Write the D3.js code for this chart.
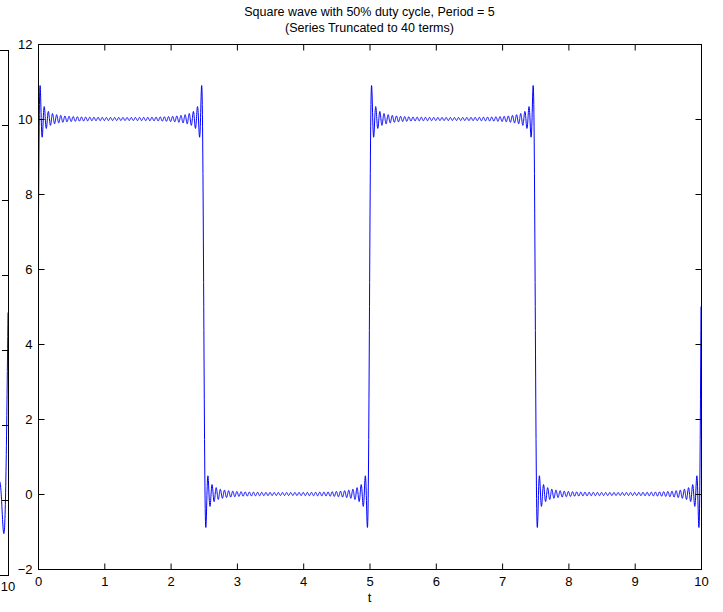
<!DOCTYPE html>
<html>
<head>
<meta charset="utf-8">
<script src="https://cdn.jsdelivr.net/npm/d3@7"></script>
<style>
  html, body { margin: 0; padding: 0; background: #fff; }
  svg { display: block; }
  text { font-family: "Liberation Sans", Arial, Helvetica, sans-serif; fill: #000; }
</style>
</head>
<body>
<svg id="chart" width="723" height="612"></svg>
<script>
// ---- data ----
const titleLines = ["Square wave with 50% duty cycle, Period = 5", "(Series Truncated to 40 terms)"];
const xLabel = "t";
const xTicks = [0, 1, 2, 3, 4, 5, 6, 7, 8, 9, 10];
const yTicks = [-2, 0, 2, 4, 6, 8, 10, 12];
const xDomain = [0, 10];
const yDomain = [-2, 12];
const period = 5;          // seconds
const amplitude = 10;      // high level of the square wave
const termsMain = 40;      // number of non-zero (odd) harmonics in the main plot
const termsLeft = 20;      // partially visible neighbouring plot
const sampleStep = 0.002;

// truncated Fourier series of a 50% duty-cycle square wave (0..amplitude)
function series(nTerms) {
  const pts = [];
  const n = Math.round((xDomain[1] - xDomain[0]) / sampleStep);
  for (let i = 0; i <= n; i++) {
    const t = xDomain[0] + i * sampleStep;
    let s = amplitude / 2;
    for (let j = 0; j < nTerms; j++) {
      const k = 2 * j + 1;
      s += (2 * amplitude / Math.PI) * Math.sin(2 * Math.PI * k * t / period) / k;
    }
    pts.push([t, s]);
  }
  return pts;
}

const svg = d3.select("#chart");
const tickLen = 6;

// ---- partially visible neighbour axes (left edge) ----
const xL = d3.scaleLinear().domain(xDomain).range([8 - 663, 8]);
const yL = d3.scaleLinear().domain(yDomain).range([575, 50]);
svg.append("clipPath").attr("id", "clipL").append("rect")
  .attr("x", xL.range()[0]).attr("y", yL.range()[1])
  .attr("width", xL.range()[1] - xL.range()[0]).attr("height", yL.range()[0] - yL.range()[1]);
svg.append("path")
  .datum(series(termsLeft))
  .attr("clip-path", "url(#clipL)")
  .attr("fill", "none").attr("stroke", "#0000ff").attr("stroke-width", 1)
  .attr("d", d3.line().x(d => xL(d[0])).y(d => yL(d[1])));
const gL = svg.append("g");
gL.append("rect")
  .attr("x", xL.range()[0]).attr("y", yL.range()[1])
  .attr("width", xL.range()[1] - xL.range()[0]).attr("height", yL.range()[0] - yL.range()[1])
  .attr("fill", "none").attr("stroke", "#000").attr("stroke-width", 1)
  .attr("shape-rendering", "crispEdges");
gL.selectAll("line.ty").data(yTicks).join("line")
  .attr("x1", xL.range()[1]).attr("x2", xL.range()[1] - tickLen)
  .attr("y1", d => Math.round(yL(d)) + 0.5).attr("y2", d => Math.round(yL(d)) + 0.5)
  .attr("stroke", "#000").attr("stroke-width", 1);
gL.selectAll("text.tx").data(xTicks.filter(d => xL(d) > -20)).join("text")
  .attr("x", d => xL(d)).attr("y", yL.range()[0] + 16)
  .attr("text-anchor", "middle").attr("font-size", 13).text(d => d);

// ---- main axes ----
const x = d3.scaleLinear().domain(xDomain).range([38, 701]);
const y = d3.scaleLinear().domain(yDomain).range([569, 44]);

svg.append("clipPath").attr("id", "clipM").append("rect")
  .attr("x", x.range()[0]).attr("y", y.range()[1])
  .attr("width", x.range()[1] - x.range()[0]).attr("height", y.range()[0] - y.range()[1]);

svg.append("path")
  .datum(series(termsMain))
  .attr("clip-path", "url(#clipM)")
  .attr("fill", "none").attr("stroke", "#0000ff").attr("stroke-width", 1)
  .attr("d", d3.line().x(d => x(d[0])).y(d => y(d[1])));

// box
svg.append("rect")
  .attr("x", x.range()[0] + 0.5).attr("y", y.range()[1] + 0.5)
  .attr("width", x.range()[1] - x.range()[0]).attr("height", y.range()[0] - y.range()[1])
  .attr("fill", "none").attr("stroke", "#000").attr("stroke-width", 1);

// inward ticks on all four sides via d3 axes
const axB = svg.append("g").attr("transform", `translate(0,${y.range()[0] + 0.5})`)
  .call(d3.axisBottom(x).tickValues(xTicks).tickSizeInner(-tickLen).tickSizeOuter(0).tickPadding(7).tickFormat(d3.format("d")));
const axT = svg.append("g").attr("transform", `translate(0,${y.range()[1] + 0.5})`)
  .call(d3.axisTop(x).tickValues(xTicks).tickSizeInner(-tickLen).tickSizeOuter(0).tickFormat(""));
const axL = svg.append("g").attr("transform", `translate(${x.range()[0] + 0.5},0)`)
  .call(d3.axisLeft(y).tickValues(yTicks).tickSizeInner(-tickLen).tickSizeOuter(0).tickPadding(6).tickFormat(d3.format("d")));
const axR = svg.append("g").attr("transform", `translate(${x.range()[1] + 0.5},0)`)
  .call(d3.axisRight(y).tickValues(yTicks).tickSizeInner(-tickLen).tickSizeOuter(0).tickFormat(""));
[axB, axT, axL, axR].forEach(g => {
  g.select(".domain").remove();
  g.selectAll("line").attr("stroke", "#000");
  g.selectAll("text").attr("font-size", 13).attr("font-family", "Liberation Sans, Arial, sans-serif").attr("fill", "#000");
});
axL.selectAll("text").text(d => d < 0 ? "\u22122" : d);

// x label
svg.append("text")
  .attr("x", (x.range()[0] + x.range()[1]) / 2).attr("y", 602)
  .attr("text-anchor", "middle").attr("font-size", 13).text(xLabel);

// title
svg.selectAll("text.title").data(titleLines).join("text")
  .attr("class", "title")
  .attr("x", (x.range()[0] + x.range()[1]) / 2)
  .attr("y", (d, i) => 16 + i * 16)
  .attr("text-anchor", "middle").attr("font-size", 12.5).text(d => d);
</script>
</body>
</html>
